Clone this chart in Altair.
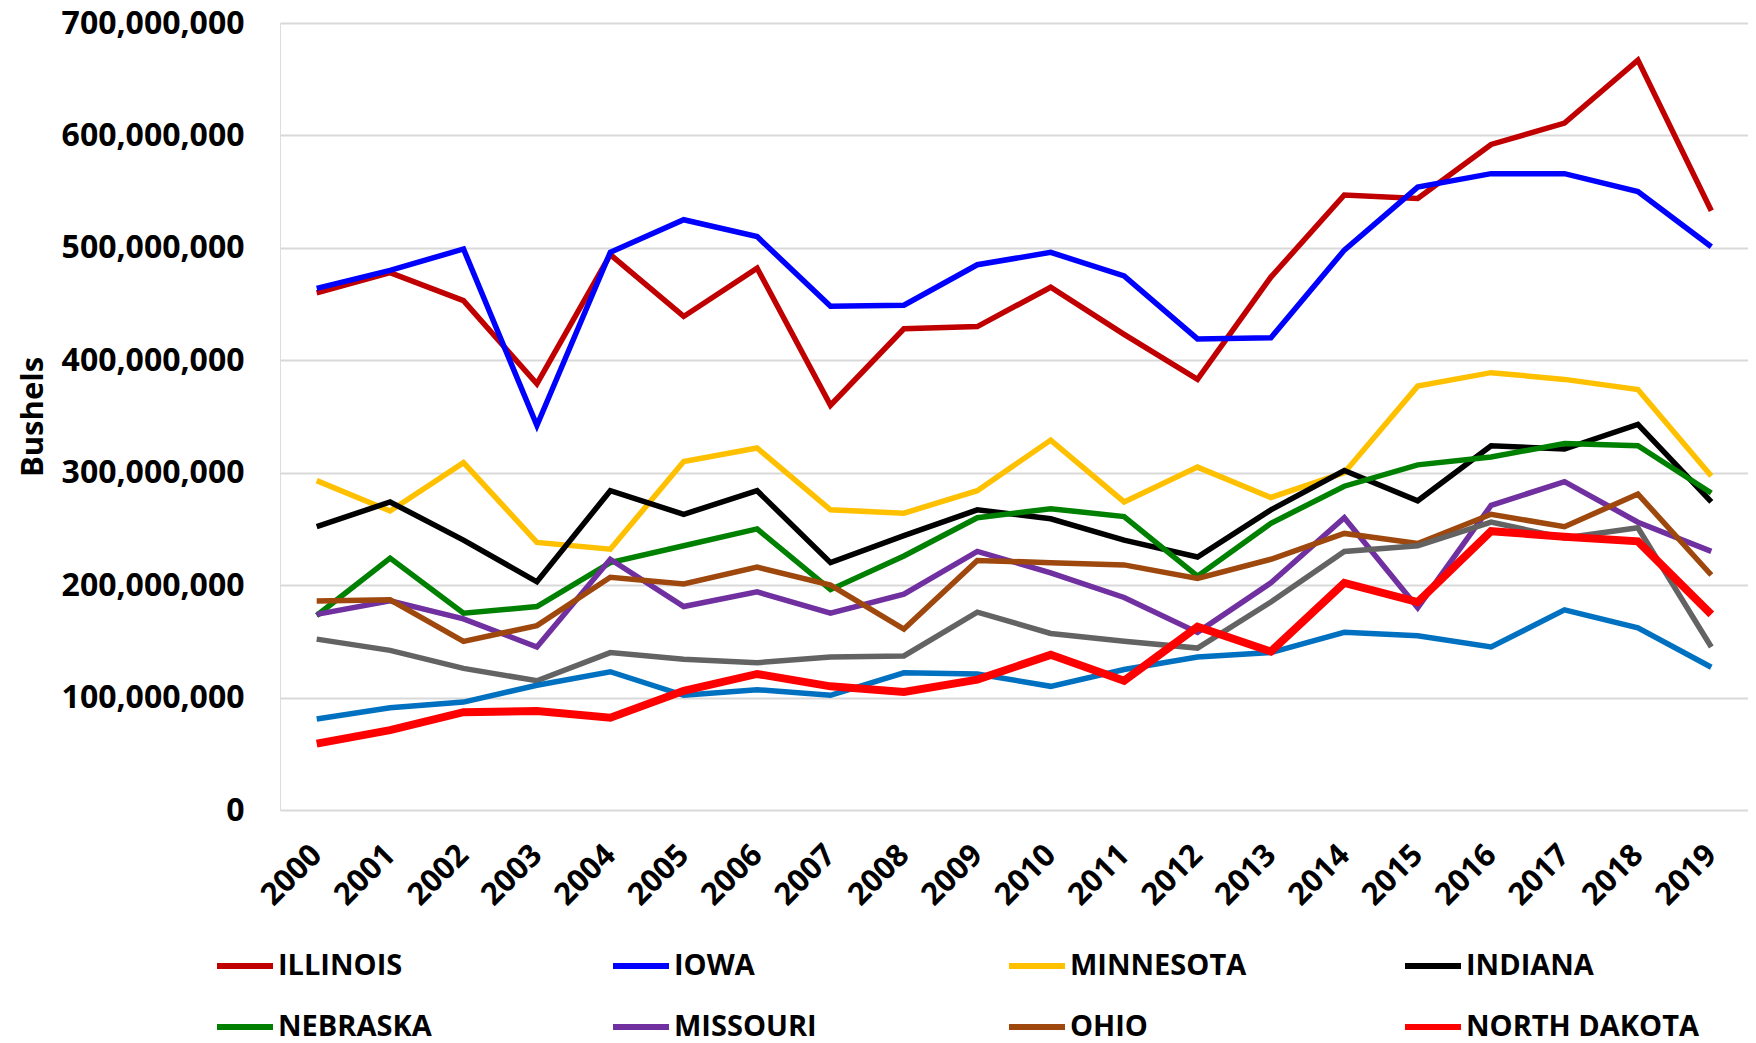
import altair as alt
import pandas as pd

years = [str(y) for y in range(2000, 2020)]

illinois = [460, 478, 453, 379, 494, 439, 482, 360, 428, 430, 465, 423, 383, 474, 547, 544, 592, 611, 667, 533]
iowa = [464, 480, 499, 342, 496, 525, 510, 448, 449, 485, 496, 475, 419, 420, 498, 554, 566, 566, 550, 501]
minnesota = [293, 266, 309, 238, 232, 310, 322, 267, 264, 284, 329, 274, 305, 278, 300, 377, 389, 383, 374, 297]
indiana = [252, 274, 240, 203, 284, 263, 284, 220, 244, 267, 259, 240, 225, 267, 302, 275, 324, 321, 343, 274]
nebraska = [173, 224, 175, 181, 220, 235, 250, 196, 226, 260, 268, 261, 208, 255, 288, 307, 314, 326, 324, 282]
missouri = [174, 186, 170, 145, 223, 181, 194, 175, 192, 230, 211, 189, 158, 202, 260, 180, 271, 292, 256, 230]
ohio = [186, 187, 150, 164, 207, 201, 216, 200, 161, 222, 220, 218, 206, 223, 246, 237, 263, 252, 281, 209]
north_dakota = [59, 71, 87, 88, 82, 106, 121, 110, 105, 116, 138, 115, 163, 141, 202, 185, 248, 243, 239, 174]
south_dakota = [152, 142, 126, 115, 140, 134, 131, 136, 137, 176, 157, 150, 144, 185, 230, 235, 256, 242, 251, 145]
kansas = [81, 91, 96, 111, 123, 102, 107, 102, 122, 121, 110, 125, 136, 140, 158, 155, 145, 178, 162, 127]

states = ["ILLINOIS", "IOWA", "MINNESOTA", "INDIANA", "NEBRASKA", "MISSOURI", "OHIO",
          "NORTH DAKOTA", "SOUTH DAKOTA", "KANSAS"]
series = [illinois, iowa, minnesota, indiana, nebraska, missouri, ohio,
          north_dakota, south_dakota, kansas]
colors = ["#C00000", "#0000FF", "#FFC000", "#000000", "#008000", "#7030A0", "#9E480E",
          "#FF0000", "#636363", "#0070C0"]
legend_states = states[:8]
thick_state = "NORTH DAKOTA"

rows = []
for i, (name, vals) in enumerate(zip(states, series)):
    for y, v in zip(years, vals):
        rows.append({"State": name, "Year": y, "Bushels": v * 1_000_000, "ord": i})
df = pd.DataFrame(rows)

FONT = "Open Sans"

base = alt.Chart(df).encode(
    x=alt.X("Year:O", title=None, sort=years,
            axis=alt.Axis(labelAngle=-45, labelAlign="right", labelBaseline="middle",
                          labelFontSize=31, labelFont=FONT, labelFontWeight="bold",
                          labelColor="#000000", labelPadding=40, ticks=False,
                          domain=False, grid=False)),
    y=alt.Y("Bushels:Q", title="Bushels",
            scale=alt.Scale(domain=[0, 700_000_000], nice=False),
            axis=alt.Axis(values=[i * 100_000_000 for i in range(8)], format=",d",
                          labelFontSize=32, labelFont=FONT, labelFontWeight="bold",
                          labelColor="#000000", labelPadding=36, labelLimit=400,
                          ticks=False, domain=False, grid=True, gridColor="#D9D9D9",
                          gridWidth=2, titleFontSize=31, titleFont=FONT,
                          titleFontWeight="bold", titleColor="#000000", titlePadding=31)),
    color=alt.Color("State:N", scale=alt.Scale(domain=states, range=colors),
                    legend=alt.Legend(orient="none", legendX=-66, legendY=912,
                                      columns=4, direction="horizontal", gridAlign="all",
                                      values=legend_states,
                                      title=None, symbolType="stroke", symbolSize=3136,
                                      symbolStrokeWidth=6, labelFont=FONT, labelFontSize=29,
                                      labelFontWeight="bold", labelColor="#000000",
                                      labelLimit=500, labelOffset=2, columnPadding=90,
                                      rowPadding=15, padding=0)),
    order=alt.Order("ord:Q"),
)

thin = base.mark_line(strokeWidth=5.5).transform_filter(alt.datum.State != thick_state)
thick = base.mark_line(strokeWidth=8).transform_filter(alt.datum.State == thick_state)

chart = alt.layer(thin, thick).properties(
    width=1468, height=787,
    autosize=alt.AutoSizeParams(type="none"),
    padding={"left": 272, "top": 15, "right": 0, "bottom": 228},
).configure_view(stroke=None).configure(background="#FFFFFF")

chart.save("out.html", embed_options={"renderer": "svg", "actions": False})
